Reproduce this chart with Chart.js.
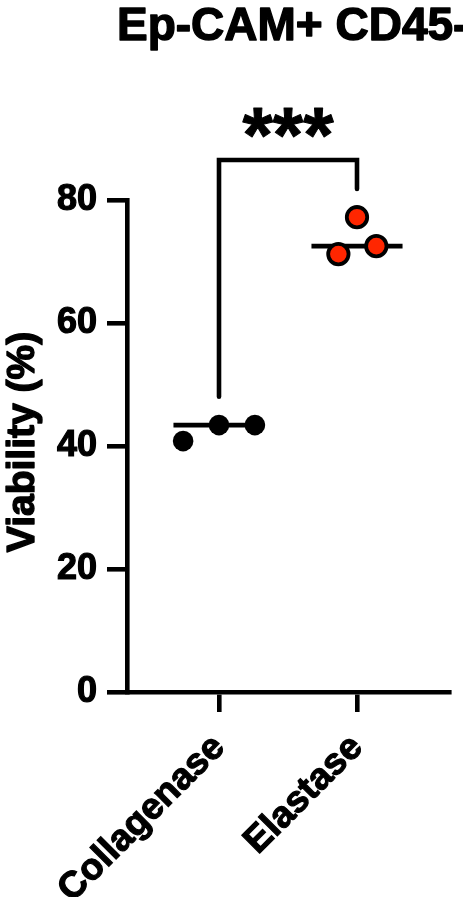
<!DOCTYPE html>
<html>
<head>
<meta charset="utf-8">
<script src="https://cdn.jsdelivr.net/npm/chart.js@4.4.1/dist/chart.umd.min.js"></script>
<style>
  html, body { margin: 0; padding: 0; background: #fff; overflow: hidden; }
  #wrap { width: 463px; height: 897px; }
</style>
</head>
<body>
<div id="wrap"><canvas id="chart" width="463" height="897"></canvas></div>
<script>
// data
const groups = ["Collagenase", "Elastase"];
const collagenase = [40.8, 43.4, 43.4];
const elastase = [71.2, 77.2, 72.5];
// horizontal scatter of the dots inside each group (in category units)
const collagenaseJitter = [-0.26, 0, 0.26];
const elastaseJitter = [-0.135, 0, 0.14];
const yTicks = [0, 20, 40, 60, 80];
// significance bracket (y values)
const bracketLeftEnd = 48;
const bracketTop = 86.5;
const bracketRightEnd = 81.8;
const sigLabel = "***";
const sigY = 92.5;
const chartTitle = "Ep-CAM+ CD45-";
const yTitle = "Viability (%)";

const FONT = "'Liberation Sans', Arial, Helvetica, sans-serif";
const RED = "#ff2600";
const LW = 4.6;

function median(arr) {
    const s = [...arr].sort((a, b) => a - b);
    const m = Math.floor(s.length / 2);
    return s.length % 2 ? s[m] : (s[m - 1] + s[m]) / 2;
}

function medianLine(vals, pos) {
    const md = median(vals);
    return [{ x: pos - 0.33, y: md }, { x: pos + 0.33, y: md }];
}

function boldText(ctx, txt, x, y, stroke) {
    ctx.fillText(txt, x, y);
    ctx.lineWidth = stroke;
    ctx.lineJoin = "round";
    ctx.strokeText(txt, x, y);
}

// title, y axis title, stars
const annotations = {
    id: "annotations",
    afterDraw(chart) {
        const ctx = chart.ctx;
        const xs = chart.scales.x;
        const ys = chart.scales.y;
        const area = chart.chartArea;
        ctx.save();
        ctx.fillStyle = "#000";
        ctx.strokeStyle = "#000";

        ctx.font = "bold 46px " + FONT;
        ctx.textAlign = "left";
        ctx.textBaseline = "alphabetic";
        boldText(ctx, chartTitle, 117, 40, 1.4);

        ctx.save();
        ctx.translate(23, (area.top + area.bottom) / 2 - 4);
        ctx.rotate(-Math.PI / 2);
        ctx.font = "bold 39px " + FONT;
        ctx.textAlign = "center";
        ctx.textBaseline = "middle";
        boldText(ctx, yTitle, 0, 0, 1.4);
        ctx.restore();

        ctx.font = "bold 78px " + FONT;
        ctx.textAlign = "center";
        ctx.textBaseline = "alphabetic";
        const m = ctx.measureText(sigLabel);
        const cx = (xs.getPixelForValue(1) + xs.getPixelForValue(2)) / 2;
        const cy = ys.getPixelForValue(sigY);
        boldText(ctx, sigLabel, cx, cy + (m.actualBoundingBoxAscent - m.actualBoundingBoxDescent) / 2, 1);
        ctx.restore();
    }
};

const ctx = document.getElementById("chart").getContext("2d");
new Chart(ctx, {
    type: "scatter",
    data: {
        datasets: [
            {
                data: collagenase.map((v, i) => ({ x: 1 + collagenaseJitter[i], y: v })),
                pointRadius: 10.3,
                pointHoverRadius: 10.3,
                pointBackgroundColor: "#000",
                pointBorderColor: "#000",
                pointBorderWidth: 0,
                clip: false,
                order: 0
            },
            {
                data: elastase.map((v, i) => ({ x: 2 + elastaseJitter[i], y: v })),
                pointRadius: 10.2,
                pointHoverRadius: 10.2,
                pointBackgroundColor: RED,
                pointBorderColor: "#000",
                pointBorderWidth: 3.8,
                clip: false,
                order: 0
            },
            {
                data: medianLine(collagenase, 1),
                showLine: true,
                borderColor: "#000",
                borderWidth: LW,
                pointRadius: 0,
                order: 1
            },
            {
                data: medianLine(elastase, 2),
                showLine: true,
                borderColor: "#000",
                borderWidth: LW,
                pointRadius: 0,
                order: 1
            },
            {
                // bracket
                data: [
                    { x: 1, y: bracketLeftEnd },
                    { x: 1, y: bracketTop },
                    { x: 2, y: bracketTop },
                    { x: 2, y: bracketRightEnd }
                ],
                showLine: true,
                borderColor: "#000",
                borderWidth: LW,
                borderCapStyle: "round",
                borderJoinStyle: "miter",
                pointRadius: 0,
                clip: false,
                order: 2
            }
        ]
    },
    options: {
        responsive: false,
        animation: false,
        devicePixelRatio: 1,
        layout: { padding: { top: 200, right: 6, bottom: 0, left: 0 } },
        scales: {
            x: {
                type: "linear",
                min: 1 / 3,
                max: 8 / 3,
                afterBuildTicks: s => { s.ticks = groups.map((g, i) => ({ value: i + 1 })); },
                afterFit: s => { s.height = 205; },
                grid: { display: true, drawOnChartArea: false, drawTicks: true, tickLength: 20, lineWidth: LW, color: "#000" },
                border: { display: true, width: LW, color: "#000" },
                ticks: {
                    autoSkip: false,
                    minRotation: 45,
                    maxRotation: 45,
                    padding: 14,
                    color: "#000",
                    textStrokeColor: "#000",
                    textStrokeWidth: 1.2,
                    font: { family: FONT, size: 37, weight: "bold" },
                    callback: v => groups[Math.round(v) - 1]
                }
            },
            y: {
                min: 0,
                max: 80,
                afterBuildTicks: s => { s.ticks = yTicks.map(v => ({ value: v })); },
                afterFit: s => { s.width = 127; },
                grid: { display: true, drawOnChartArea: false, drawTicks: true, tickLength: 20, lineWidth: LW, color: "#000" },
                border: { display: true, width: LW, color: "#000" },
                ticks: {
                    padding: 10,
                    color: "#000",
                    textStrokeColor: "#000",
                    textStrokeWidth: 1.2,
                    font: { family: FONT, size: 36, weight: "bold" }
                },
                title: { display: false }
            }
        },
        plugins: {
            legend: { display: false },
            tooltip: { enabled: false },
            title: { display: false }
        }
    },
    plugins: [annotations]
});
</script>
</body>
</html>
